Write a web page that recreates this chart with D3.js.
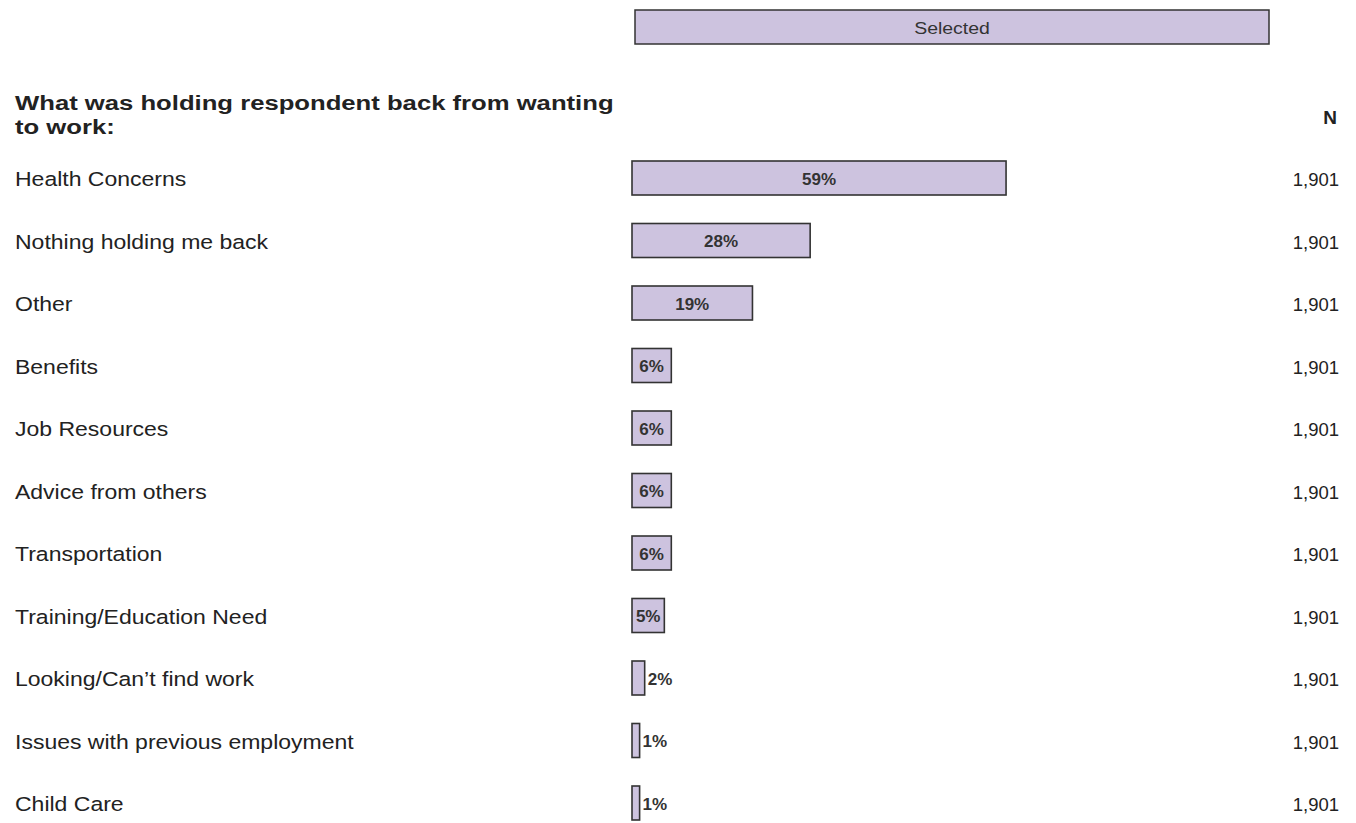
<!DOCTYPE html>
<html>
<head>
<meta charset="utf-8">
<script src="https://cdn.jsdelivr.net/npm/d3@7"></script>
<style>
  body { margin: 0; background: #fff; }
  svg { display: block; font-family: "Liberation Sans", Arial, sans-serif; }
</style>
</head>
<body>
<svg id="chart"></svg>
<script>
/*
Data
*/

const categories = [
  "Health Concerns",
  "Nothing holding me back",
  "Other",
  "Benefits",
  "Job Resources",
  "Advice from others",
  "Transportation",
  "Training/Education Need",
  "Looking/Can\u2019t find work",
  "Issues with previous employment",
  "Child Care"
];
const values = [59, 28.1, 19, 6.2, 6.2, 6.2, 6.2, 5.1, 2.0, 1.2, 1.2];
const valueLabels = ["59%", "28%", "19%", "6%", "6%", "6%", "6%", "5%", "2%", "1%", "1%"];
const counts = ["1,901", "1,901", "1,901", "1,901", "1,901", "1,901", "1,901", "1,901", "1,901", "1,901", "1,901"];
const seriesName = "Selected";
const question = ["What was holding respondent back from wanting", "to work:"];

/*
Setup
*/

const width = 1356, height = 823;
const fill = "#cdc3df", stroke = "#333333";
const labelStretch = 1.18;

const svg = d3.select("#chart")
  .attr("width", width)
  .attr("height", height)
  .attr("viewBox", "0 0 " + width + " " + height);

const x = d3.scaleLinear().domain([0, 100]).range([632, 1266]);
const y = d3.scalePoint().domain(categories).range([178, 803]);
const barH = 34;

// Header box
svg.append("rect")
  .attr("x", 635).attr("y", 10)
  .attr("width", 634).attr("height", 34)
  .attr("fill", fill).attr("stroke", stroke).attr("stroke-width", 1.5);
svg.append("text")
  .attr("transform", "translate(" + (635 + 317) + ",34) scale(" + labelStretch + ",1)")
  .attr("text-anchor", "middle")
  .attr("font-size", 16.5).attr("fill", "#333")
  .text(seriesName);

// Question title
svg.append("g")
  .attr("transform", "translate(15,0) scale(1.222,1)")
  .selectAll("text")
  .data(question)
  .enter()
  .append("text")
  .attr("x", 0)
  .attr("y", (d, i) => 110 + i * 24)
  .attr("font-size", 21).attr("font-weight", "bold").attr("fill", "#222")
  .text(d => d);

svg.append("text")
  .attr("x", 1330).attr("y", 124)
  .attr("text-anchor", "middle")
  .attr("font-size", 19).attr("font-weight", "bold").attr("fill", "#222")
  .text("N");

// Rows
const rows = svg.append("g")
  .selectAll("g")
  .data(categories)
  .enter()
  .append("g");

rows.append("text")
  .attr("transform", d => "translate(15," + (y(d) + 8) + ") scale(" + labelStretch + ",1)")
  .attr("font-size", 19.5).attr("fill", "#222")
  .text(d => d);

rows.append("rect")
  .attr("x", x(0))
  .attr("y", d => y(d) - barH / 2)
  .attr("width", (d, i) => x(values[i]) - x(0))
  .attr("height", barH)
  .attr("fill", fill)
  .attr("stroke", stroke)
  .attr("stroke-width", 1.6);

rows.append("text")
  .attr("y", d => y(d) + 6.5)
  .attr("font-size", 17).attr("font-weight", "bold").attr("fill", "#333")
  .text((d, i) => valueLabels[i])
  .each(function (d, i) {
    const w = this.getComputedTextLength();
    const bw = x(values[i]) - x(0);
    const t = d3.select(this);
    if (bw >= w + 2) {
      t.attr("x", x(0) + bw / 2).attr("text-anchor", "middle");
    } else {
      t.attr("x", x(values[i]) + 3).attr("text-anchor", "start");
    }
  });

rows.append("text")
  .attr("x", 1339)
  .attr("y", d => y(d) + 8)
  .attr("text-anchor", "end")
  .attr("font-size", 18.5).attr("fill", "#222")
  .text((d, i) => counts[i]);
</script>
</body>
</html>
